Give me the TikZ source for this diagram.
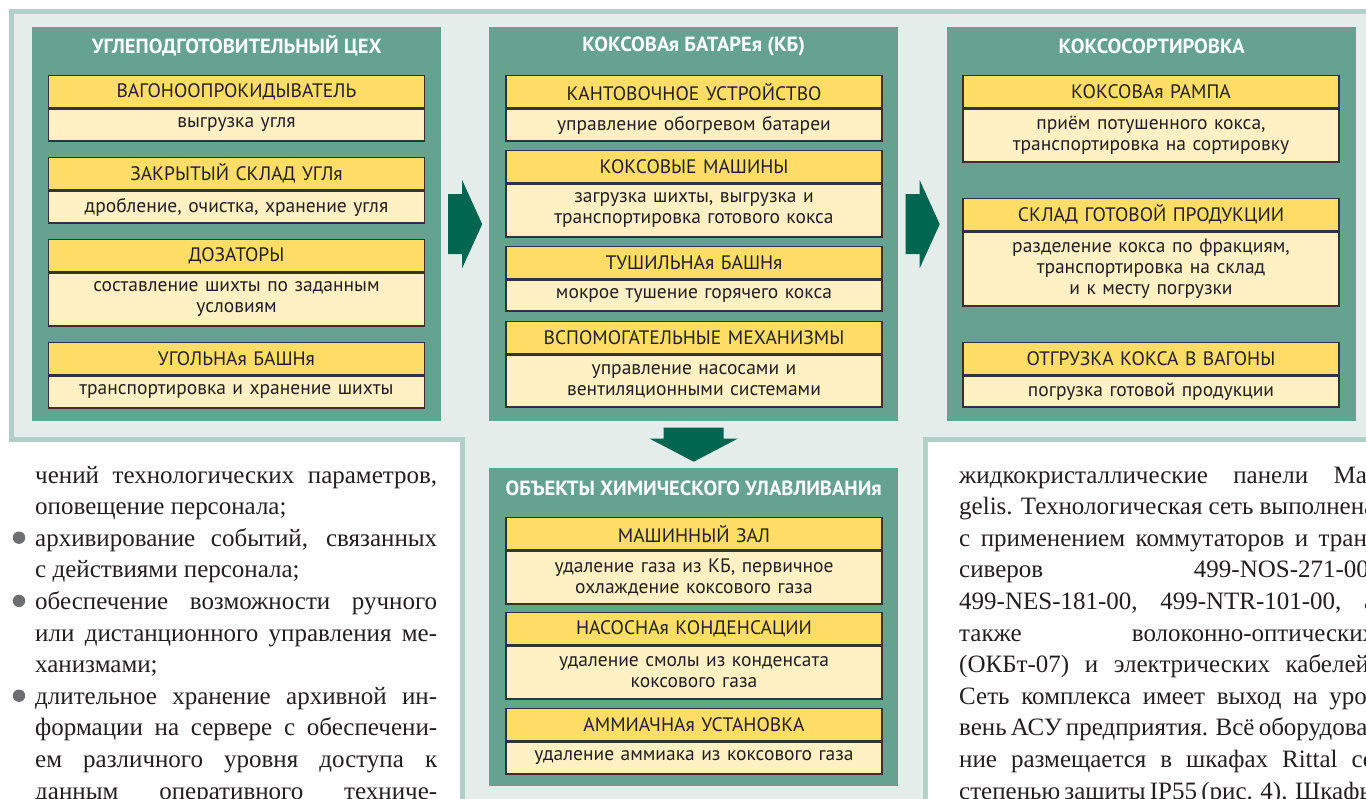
\documentclass[tikz,border=0pt]{standalone}
\usepackage{fontspec}
\setmainfont{Liberation Serif}
\newfontfamily\boxfont{PT Sans}
\usetikzlibrary{positioning}

\definecolor{pagebg}{HTML}{E4EDEA}
\definecolor{framec}{HTML}{B2D0C8}
\definecolor{panelc}{HTML}{65A290}
\definecolor{headc}{HTML}{FFDD66}
\definecolor{bodyc}{HTML}{FFF1C4}
\definecolor{arrowc}{HTML}{00664F}
\definecolor{inkc}{HTML}{231F20}
\definecolor{dotc}{HTML}{6D6E71}

\tikzset{
  frame/.style={draw=framec, line width=5},
  panel/.style={fill=panelc, anchor=north west, inner sep=0, minimum width=409},
  ptitle/.style={text=white, inner sep=0, font=\boxfont\bfseries\fontsize{20.5}{22}\selectfont},
  head/.style={fill=headc, draw=black!80, line width=1.3, anchor=north, inner sep=0,
    text width=376, minimum height=32, align=center, text=inkc,
    font=\boxfont\fontsize{19.5}{21}\selectfont},
  body/.style={fill=bodyc, draw=black!80, line width=1.3, inner sep=0,
    text width=376, minimum height=32, align=center, text=inkc,
    font=\boxfont\fontsize{19.5}{21}\selectfont},
  line/.style={anchor=base west, inner sep=0, text=inkc,
    font=\fontsize{25}{31.6}\selectfont},
  dot/.style={fill=dotc, draw=none}
}

\begin{document}
\begin{tikzpicture}[x=1pt,y=-1pt]
\useasboundingbox (0,0) rectangle (1366,799);
\clip (0,0) rectangle (1366,799);
\fill[white] (0,0) rectangle (1366,799);

% фон и рамка
\fill[pagebg] (11.5,11.5) -- (1366,11.5) -- (1366,439.5) -- (925.8,439.5) -- (925.8,799)
  -- (462,799) -- (462,439.5) -- (11.5,439.5) -- cycle;
\draw[frame] (11.5,439.5) -- (11.5,11.5) -- (1366,11.5);
\draw[frame] (9,439.5) -- (462,439.5) -- (462,799);
\draw[frame] (1366,439.5) -- (925.8,439.5) -- (925.8,799);

% блоки
\node[panel, minimum height=394] (ugl) at (32,27) {};
\node[panel, minimum height=394] (kb) at (489,27) {};
\node[panel, minimum height=394] (sort) at (947,27) {};
\node[panel, minimum height=318] (chem) at (489,468) {};

\node[ptitle] at (ugl.north |- 0,46) {УГЛЕПОДГОТОВИТЕЛЬНЫЙ ЦЕХ};
\node[ptitle] at (kb.north |- 0,46) {КОКСОВАя БАТАРЕя (КБ)};
\node[ptitle] at (sort.north |- 0,46) {КОКСОСОРТИРОВКА};
\node[ptitle] at (chem.north |- 0,488) {ОБЪЕКТЫ ХИМИЧЕСКОГО УЛАВЛИВАНИя};

% углеподготовительный цех
\node[head] (vag) at (236.5,75) {ВАГОНООПРОКИДЫВАТЕЛЬ};
\node[body, below=0pt of vag] (vagb) {выгрузка угля};
\node[head] (skl) at (236.5,157) {ЗАКРЫТЫЙ СКЛАД УГЛя};
\node[body, below=0pt of skl] (sklb) {дробление, очистка, хранение угля};
\node[head] (doz) at (236.5,239) {ДОЗАТОРЫ};
\node[body, below=0pt of doz, minimum height=53] (dozb) {составление шихты по заданным\\условиям};
\node[head] (bash) at (236.5,342) {УГОЛЬНАя БАШНя};
\node[body, below=0pt of bash] (bashb) {транспортировка и хранение шихты};

% коксовая батарея
\node[head] (kant) at (694,75) {КАНТОВОЧНОЕ УСТРОЙСТВО};
\node[body, below=0pt of kant] (kantb) {управление обогревом батареи};
\node[head] (mash) at (694,150) {КОКСОВЫЕ МАШИНЫ};
\node[body, below=0pt of mash, minimum height=53] (mashb) {загрузка шихты, выгрузка и\\транспортировка готового кокса};
\node[head] (tush) at (694,246) {ТУШИЛЬНАя БАШНя};
\node[body, below=0pt of tush, minimum height=31] (tushb) {мокрое тушение горячего кокса};
\node[head] (vsp) at (694,321) {ВСПОМОГАТЕЛЬНЫЕ МЕХАНИЗМЫ};
\node[body, below=0pt of vsp, minimum height=52] (vspb) {управление насосами и\\вентиляционными системами};

% коксосортировка
\node[head] (ramp) at (1151,75) {КОКСОВАя РАМПА};
\node[body, below=0pt of ramp, minimum height=53] (rampb) {приём потушенного кокса,\\транспортировка на сортировку};
\node[head] (gotov) at (1151,198) {СКЛАД ГОТОВОЙ ПРОДУКЦИИ};
\node[body, below=0pt of gotov, minimum height=74] (gotovb) {разделение кокса по фракциям,\\транспортировка на склад\\и к месту погрузки};
\node[head] (otgr) at (1151,342) {ОТГРУЗКА КОКСА В ВАГОНЫ};
\node[body, below=0pt of otgr, minimum height=31] (otgrb) {погрузка готовой продукции};

% химическое улавливание
\node[head] (zal) at (694,517) {МАШИННЫЙ ЗАЛ};
\node[body, below=0pt of zal, minimum height=53] (zalb) {удаление газа из КБ, первичное\\охлаждение коксового газа};
\node[head] (nas) at (694,612) {НАСОСНАя КОНДЕНСАЦИИ};
\node[body, below=0pt of nas, minimum height=53] (nasb) {удаление смолы из конденсата\\коксового газа};
\node[head] (amm) at (694,708) {АММИАЧНАя УСТАНОВКА};
\node[body, below=0pt of amm] (ammb) {удаление аммиака из коксового газа};

% стрелки
\path (ugl.east) -- (kb.west) coordinate[midway] (a1);
\path (kb.east) -- (sort.west) coordinate[midway] (a2);
\path (kb.south) -- (chem.north) coordinate[midway] (a3);
\foreach \a in {a1,a2}
  \fill[arrowc, shift={(\a)}] (-17,-30) -- (-3,-30) -- (-3,-44) -- (17,0) -- (-3,44)
    -- (-3,30) -- (-17,30) -- cycle;
\fill[arrowc, shift={(a3)}] (-30,-17) -- (30,-17) -- (30,-6) -- (44,-6) -- (0,17)
  -- (-44,-6) -- (-30,-6) -- cycle;

% левая колонка
\node[line] (l1) at (35,483) {\makebox[402pt][s]{чений технологических параметров,}};
\node[line] (l2) at (35,514.6) {оповещение персонала;};
\node[line] (l3) at (35,546.2) {\makebox[402pt][s]{архивирование событий, связанных}};
\node[line] (l4) at (35,577.8) {с действиями персонала;};
\node[line] (l5) at (35,609.4) {\makebox[402pt][s]{обеспечение возможности ручного}};
\node[line] (l6) at (35,641) {\makebox[402pt][s]{или дистанционного управления ме-}};
\node[line] (l7) at (35,672.6) {ханизмами;};
\node[line] (l8) at (35,704.2) {\makebox[402pt][s]{длительное хранение архивной ин-}};
\node[line] (l9) at (35,735.8) {\makebox[402pt][s]{формации на сервере с обеспечени-}};
\node[line] (l10) at (35,767.4) {\makebox[402pt][s]{ем различного уровня доступа к}};
\node[line] (l11) at (35,799) {\makebox[402pt][s]{данным оперативного техниче-}};
\foreach \y in {537.7,600.9,695.7}
  \fill[dot] (19,\y) circle (6.2);

% правая колонка
\node[line] (r1) at (959,483) {\makebox[416pt][s]{жидкокристаллические панели Ма-}};
\node[line] (r2) at (959,514.6) {\makebox[416pt][s]{gelis. Технологическая сеть выполнена}};
\node[line] (r3) at (959,546.2) {\makebox[416pt][s]{с применением коммутаторов и тран-}};
\node[line] (r4) at (959,577.8) {\makebox[416pt][s]{сиверов 499-NOS-271-00,}};
\node[line] (r5) at (959,609.4) {\makebox[416pt][s]{499-NES-181-00, 499-NTR-101-00, а}};
\node[line] (r6) at (959,641) {\makebox[416pt][s]{также волоконно-оптических}};
\node[line] (r7) at (959,672.6) {\makebox[416pt][s]{(ОКБт-07) и электрических кабелей.}};
\node[line] (r8) at (959,704.2) {\makebox[416pt][s]{Сеть комплекса имеет выход на уро-}};
\node[line] (r9) at (959,735.8) {\makebox[416pt][s]{вень АСУ предприятия. Всё оборудова-}};
\node[line] (r10) at (959,767.4) {\makebox[416pt][s]{ние размещается в шкафах Rittal со}};
\node[line] (r11) at (959,799) {\makebox[416pt][s]{степенью защиты IP55 (рис. 4). Шкафы}};
\end{tikzpicture}
\end{document}
